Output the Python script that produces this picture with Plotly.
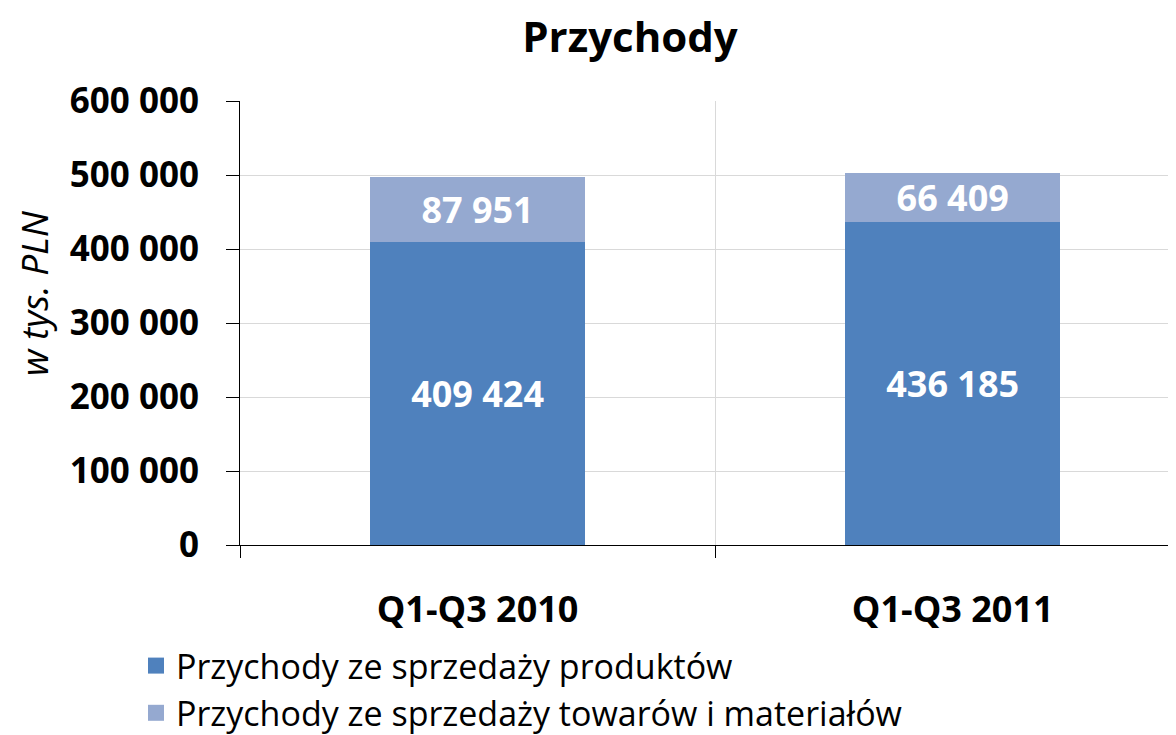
import plotly.graph_objects as go

categories = ["Q1-Q3 2010", "Q1-Q3 2011"]
produkty = [409424, 436185]
towary = [87951, 66409]
series_names = ["Przychody ze sprzedaży produktów", "Przychody ze sprzedaży towarów i materiałów"]
colors = ["#4F81BD", "#95A9D0"]

FONT = "Open Sans"
OFF = 8  # page body margin
FIG_W, FIG_H = 1176 - OFF, 735 - OFF
L, T, W_PLOT, H_PLOT = 240 - OFF, 101 - OFF, 936, 444

fig = go.Figure()
for i, (vals, name, col) in enumerate(zip([produkty, towary], series_names, colors)):
    fig.add_trace(go.Bar(
        x=categories, y=vals, name=name, marker=dict(color=col, line=dict(width=0)),
        width=0.453, text=vals, texttemplate="%{y:,}", textposition="inside",
        insidetextanchor="middle", constraintext="none",
        textfont=dict(family=FONT, size=36, color="white", weight="bold"),
        showlegend=False,
    ))
    fig.add_trace(go.Scatter(
        x=[None], y=[None], mode="markers", name=name,
        marker=dict(symbol="square", size=24, color=col),
        legendgroup=f"g{i}", showlegend=True,
    ))

fig.update_layout(
    width=FIG_W, height=FIG_H,
    barmode="stack",
    separators=", ",
    paper_bgcolor="white", plot_bgcolor="white",
    margin=dict(l=L, r=FIG_W - L - W_PLOT, t=T, b=FIG_H - T - H_PLOT, autoexpand=False),
    title=dict(text="<b>Przychody</b>", x=(630 - OFF) / FIG_W, xanchor="center",
               y=1 - (37 - OFF) / FIG_H, yanchor="middle",
               font=dict(family=FONT, size=42, color="black")),
    font=dict(family=FONT, color="black"),
    legend=dict(orientation="v", x=(136 - OFF - L) / W_PLOT, xanchor="left",
                y=-(637 - OFF - T - H_PLOT) / H_PLOT, yanchor="top",
                traceorder="grouped", tracegroupgap=0,
                font=dict(family=FONT, size=34, color="black"),
                itemwidth=30),
    showlegend=True,
    annotations=[dict(
        text="<i>w tys. PLN</i>", textangle=-90, showarrow=False,
        xref="paper", yref="paper",
        x=(33 - OFF - L) / W_PLOT, y=(545 - 293) / H_PLOT,
        xanchor="center", yanchor="middle",
        font=dict(family=FONT, size=37, color="black"),
    )],
)
fig.update_yaxes(
    range=[0, 600000], dtick=100000, tickformat=",d", automargin=False,
    showgrid=True, gridcolor="#D9D9D9", gridwidth=1,
    showline=True, linecolor="black", linewidth=1,
    ticks="outside", ticklen=13, tickcolor="black",
    ticklabelstandoff=20,
    tickfont=dict(family=FONT, size=35, color="black", weight="bold"),
    zeroline=False,
)
fig.update_xaxes(
    type="category", range=[-0.5, 1.47], tickson="boundaries", automargin=False,
    showgrid=True, gridcolor="#D9D9D9", gridwidth=1,
    showline=True, linecolor="black", linewidth=1,
    ticks="outside", ticklen=12, tickcolor="black",
    ticklabelstandoff=33,
    tickfont=dict(family=FONT, size=36, color="black", weight="bold"),
)

fig.write_html("out.html")
